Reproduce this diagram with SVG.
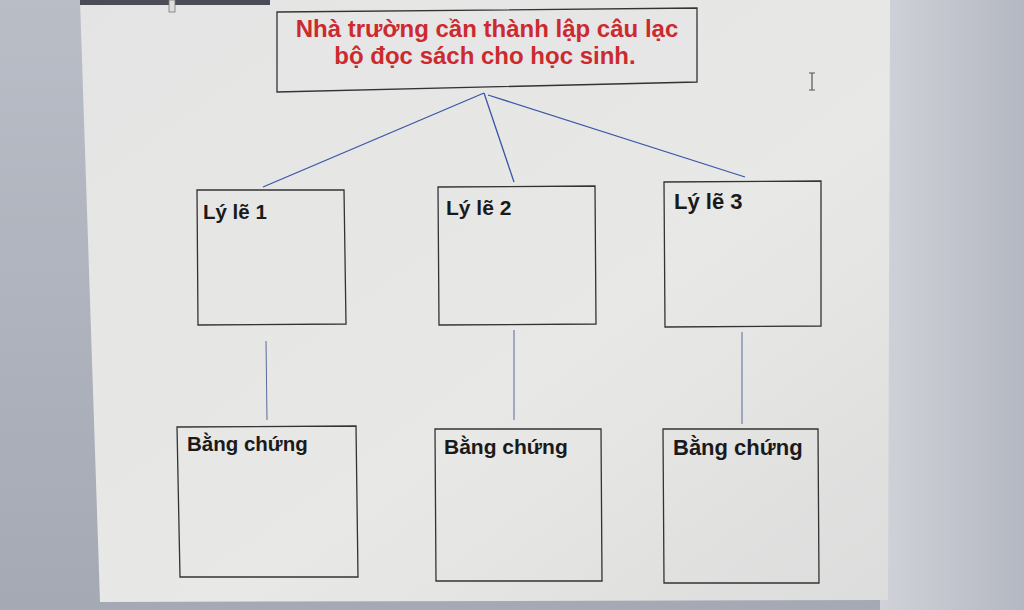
<svg xmlns="http://www.w3.org/2000/svg" width="1024" height="610" viewBox="0 0 1024 610">
<defs>
<linearGradient id="bgL" x1="0" y1="0" x2="0" y2="1">
<stop offset="0" stop-color="#b9bdc6"/><stop offset="1" stop-color="#a4a9b4"/>
</linearGradient>
<linearGradient id="bgR" x1="0" y1="0" x2="1" y2="0">
<stop offset="0" stop-color="#d0d2d8"/><stop offset="1" stop-color="#b4b8c2"/>
</linearGradient>
<linearGradient id="page" x1="0" y1="0" x2="1" y2="1">
<stop offset="0" stop-color="#e4e4e4"/><stop offset="0.6" stop-color="#e8e8e6"/><stop offset="1" stop-color="#dcdcdc"/>
</linearGradient>
</defs>
<style>
.box{fill:none;stroke:#333;stroke-width:1.3}
.lbl{font-family:"Liberation Sans",Arial,sans-serif;font-weight:bold;fill:#1a1a1a}
.title{font-family:"Liberation Sans",Arial,sans-serif;font-weight:bold;fill:#cc2a2e;font-size:24px}
.con{stroke:#3a56a8;stroke-width:1.3;fill:none}
.vcon{stroke:#5a6a9a;stroke-width:1;fill:none}
</style>
<rect x="0" y="0" width="1024" height="610" fill="url(#bgL)"/>
<rect x="880" y="0" width="144" height="610" fill="url(#bgR)"/>
<polygon points="80,0 890,0 888,600 100,602" fill="url(#page)"/>
<rect x="80" y="0" width="190" height="5" fill="#4a4d55"/>
<rect x="169" y="0" width="6" height="12" fill="#ddd" stroke="#777" stroke-width="0.8"/>

<g id="title">
<polygon points="277,12 697,8 697,82 277,92" fill="#e6e6e6" stroke="#333" stroke-width="1.3"/>
<text class="title" x="487" y="37" text-anchor="middle">Nhà trường cần thành lập câu lạc</text>
<text class="title" x="485" y="64" text-anchor="middle">bộ đọc sách cho học sinh.</text>
</g>

<g id="connectors">
<line class="con" x1="484" y1="93" x2="263" y2="187" stroke="#3c4260"/>
<line class="con" x1="484" y1="93" x2="514" y2="182"/>
<line class="con" x1="488" y1="95" x2="745" y2="177"/>
<line class="vcon" x1="266" y1="341" x2="267" y2="420"/>
<line class="vcon" x1="514" y1="330" x2="514" y2="420"/>
<line class="vcon" x1="742" y1="332" x2="742" y2="424"/>
</g>

<g id="ly-le-1">
<polygon class="box" points="197,190 344,190 346,324 198,325"/>
<text class="lbl" x="203" y="219" font-size="20.5">Lý lẽ 1</text>
</g>
<g id="ly-le-2">
<polygon class="box" points="438,187 595,186 596,324 439,325"/>
<text class="lbl" x="446" y="215" font-size="21">Lý lẽ 2</text>
</g>
<g id="ly-le-3">
<polygon class="box" points="664,182 821,181 821,326 665,327"/>
<text class="lbl" x="674" y="209" font-size="22">Lý lẽ 3</text>
</g>

<g id="bang-chung-1">
<polygon class="box" points="177,427 356,426 358,577 180,577"/>
<text class="lbl" x="187" y="451" font-size="20.5">Bằng chứng</text>
</g>
<g id="bang-chung-2">
<polygon class="box" points="435,429 601,429 602,581 436,581"/>
<text class="lbl" x="444" y="454" font-size="21">Bằng chứng</text>
</g>
<g id="bang-chung-3">
<polygon class="box" points="663,429 818,429 819,583 664,583"/>
<text class="lbl" x="673" y="455" font-size="22">Bằng chứng</text>
</g>

<path d="M809,73 h6 M812,73 v17 M809,90 h6" stroke="#555" stroke-width="1.2" fill="none"/>
</svg>
